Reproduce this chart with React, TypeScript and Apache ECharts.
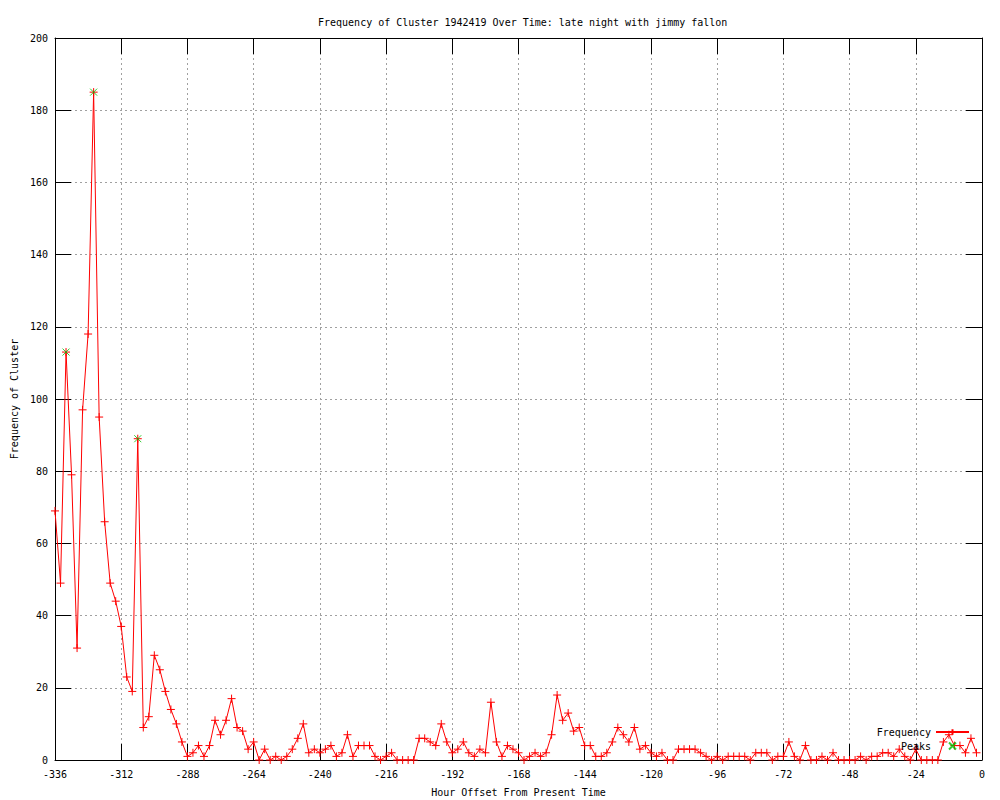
import React, { useEffect, useRef } from "react";
import * as echarts from "echarts";

const TITLE = "Frequency of Cluster 1942419 Over Time: late night with jimmy fallon";
const X_NAME = "Hour Offset From Present Time";
const Y_NAME = "Frequency of Cluster";
const SERIES_NAMES = ["Frequency", "Peaks"];

const START_HOUR = -336;
const STEP_HOURS = 2;
const X_MIN = -336;
const X_MAX = 0;
const X_STEP = 24;
const Y_MIN = 0;
const Y_MAX = 200;
const Y_STEP = 20;

const FREQUENCY = [
  69, 49, 113, 79, 31, 97, 118, 185, 95, 66,
  49, 44, 37, 23, 19, 89, 9, 12, 29, 25,
  19, 14, 10, 5, 1, 2, 4, 1, 4, 11,
  7, 11, 17, 9, 8, 3, 5, 0, 3, 0,
  1, 0, 1, 3, 6, 10, 2, 3, 2, 3,
  4, 1, 2, 7, 1, 4, 4, 4, 1, 0,
  1, 2, 0, 0, 0, 0, 6, 6, 5, 4,
  10, 5, 2, 3, 5, 2, 1, 3, 2, 16,
  5, 1, 4, 3, 2, 0, 1, 2, 1, 2,
  7, 18, 11, 13, 8, 9, 4, 4, 1, 1,
  2, 5, 9, 7, 5, 9, 3, 4, 2, 1,
  2, 0, 0, 3, 3, 3, 3, 2, 1, 0,
  1, 0, 1, 1, 1, 1, 0, 2, 2, 2,
  0, 1, 1, 5, 1, 0, 4, 0, 0, 1,
  0, 2, 0, 0, 0, 0, 1, 0, 1, 1,
  2, 2, 1, 3, 1, 0, 3, 0, 0, 0,
  0, 5, 7, 4, 4, 2, 6, 2,
];

const PEAK_HOURS = [-332, -322, -306];
const PEAK_VALUES = [113, 185, 89];

const FONT = "DejaVu Sans Mono";
const PLUS = "path://M0,5L10,5M5,0L5,10";
const CROSS = "path://M0,0L10,10M10,0L0,10";

export default function App() {
  const ref = useRef<HTMLDivElement>(null);

  useEffect(() => {
    if (!ref.current) return;
    const chart = echarts.init(ref.current, null, { renderer: "svg" });

    const freqData = FREQUENCY.map((v, i) => [START_HOUR + STEP_HOURS * i, v]);
    const peakData = PEAK_HOURS.map((h, i) => [h, PEAK_VALUES[i]]);

    const tickStyle = { show: true, inside: true, length: 16, lineStyle: { color: "#000", width: 1 } };
    const axisLine = { show: true, onZero: false, lineStyle: { color: "#000", width: 1 } };
    const splitLine = { show: true, lineStyle: { color: "#a0a0a0", width: 1, type: [2, 3] as any } };
    const labelStyle = { color: "#000", fontFamily: FONT, fontSize: 10 };

    chart.setOption({
      animation: false,
      backgroundColor: "#ffffff",
      title: {
        text: TITLE,
        left: 313,
        top: 12,
        textStyle: { fontFamily: FONT, fontSize: 10, fontWeight: "normal", color: "#000" },
      },
      grid: {
        left: 55,
        right: 18,
        top: 38,
        bottom: 40,
        containLabel: false,
        outerBoundsMode: "none",
      },
      legend: {
        orient: "vertical",
        right: 30,
        top: 726,
        align: "right",
        itemWidth: 33,
        itemHeight: 7,
        itemGap: 2,
        padding: 0,
        data: [{ name: SERIES_NAMES[0] }, { name: SERIES_NAMES[1], icon: CROSS }],
        textStyle: { fontFamily: FONT, fontSize: 10, color: "#000", lineHeight: 12 },
      },
      xAxis: [
        {
          type: "value",
          position: "bottom",
          min: X_MIN,
          max: X_MAX,
          interval: X_STEP,
          name: X_NAME,
          nameLocation: "middle",
          nameGap: 27,
          nameTextStyle: { fontFamily: FONT, fontSize: 10, color: "#000" },
          axisLine,
          axisTick: tickStyle,
          axisLabel: { ...labelStyle, margin: 9 },
          splitLine,
        },
        {
          type: "value",
          position: "top",
          min: X_MIN,
          max: X_MAX,
          interval: X_STEP,
          axisLine,
          axisTick: tickStyle,
          axisLabel: { show: false },
          splitLine: { show: false },
        },
      ],
      yAxis: [
        {
          type: "value",
          position: "left",
          min: Y_MIN,
          max: Y_MAX,
          interval: Y_STEP,
          name: Y_NAME,
          nameLocation: "middle",
          nameGap: 36,
          nameRotate: 90,
          nameTextStyle: { fontFamily: FONT, fontSize: 10, color: "#000" },
          axisLine,
          axisTick: tickStyle,
          axisLabel: { ...labelStyle, margin: 7 },
          splitLine,
        },
        {
          type: "value",
          position: "right",
          min: Y_MIN,
          max: Y_MAX,
          interval: Y_STEP,
          axisLine,
          axisTick: tickStyle,
          axisLabel: { show: false },
          splitLine: { show: false },
        },
      ],
      series: [
        {
          name: SERIES_NAMES[0],
          type: "line",
          data: freqData,
          xAxisIndex: 0,
          yAxisIndex: 0,
          symbol: PLUS,
          symbolSize: 8,
          showSymbol: true,
          showAllSymbol: true,
          lineStyle: { color: "#ff0000", width: 1 },
          itemStyle: { color: "#ff0000", borderColor: "#ff0000", borderWidth: 1 },
          emphasis: { disabled: true },
          z: 2,
        },
        {
          name: SERIES_NAMES[1],
          type: "scatter",
          data: peakData,
          xAxisIndex: 0,
          yAxisIndex: 0,
          symbol: CROSS,
          symbolSize: 7,
          itemStyle: { color: "#00c000", borderColor: "#00c000", borderWidth: 1 },
          emphasis: { disabled: true },
          z: 3,
        },
      ],
    });

    return () => chart.dispose();
  }, []);

  return (
    <div
      ref={ref}
      style={{ position: "absolute", left: 0, top: 0, width: 1000, height: 800 }}
    />
  );
}
